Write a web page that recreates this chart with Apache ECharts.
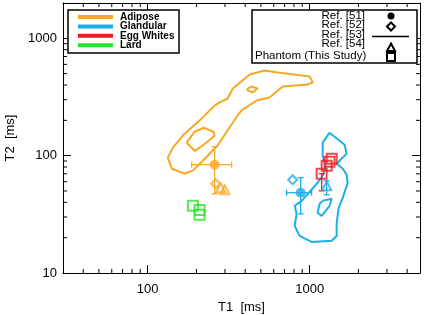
<!DOCTYPE html>
<html>
<head>
<meta charset="utf-8">
<script src="https://cdn.jsdelivr.net/npm/echarts@6/dist/echarts.min.js"></script>
<style>
  html, body { margin: 0; padding: 0; background: #fff; }
  #main { width: 425px; height: 315px; }
</style>
</head>
<body>
<div id="main"></div>
<script>
// axis ranges (ms)
const t1Range = [30, 4800];
const t2Range = [10, 2000];
const t1Labels = [100, 1000];
const t2Labels = [10, 100, 1000];
const t1MinorTicks = [40, 50, 60, 70, 80, 90, 200, 300, 400, 500, 600, 700, 800, 900, 2000, 3000, 4000];
const t2MinorTicks = [20, 30, 40, 50, 60, 70, 80, 90, 200, 300, 400, 500, 600, 700, 800, 900];

// contours [T1, T2] (Ref. [53])
const adiposeContour = [
  [427, 492], [527, 532], [634, 512], [1000, 473], [1044, 421], [973, 404], [681, 389],
  [566, 313], [471, 295], [380, 243], [359, 220], [270, 122], [219, 90.6], [190, 74.5],
  [169, 70.2], [141, 77.4], [133, 96.1], [143, 117], [169, 154], [209, 199], [259, 267],
  [278, 284], [312, 307], [335, 374], [427, 492]
];
const adiposeIslandA = [[408, 366], [438, 389], [477, 374], [445, 345], [408, 366]];
const adiposeIslandB = [
  [174, 129], [195, 160], [222, 173], [255, 160], [259, 148], [219, 122], [195, 110], [174, 129]
];
const glandularContour = [
  [1327, 157], [1644, 124], [1691, 104], [1531, 90.6], [1468, 85.4], [1600, 77.4],
  [1691, 68.9], [1717, 58.8], [1600, 43.7], [1510, 35.9], [1468, 26.7], [1468, 20.7],
  [1368, 18.8], [1028, 18.4], [867, 20.7], [808, 25.2], [831, 31.9], [808, 37.4],
  [893, 41.2], [1119, 58.8], [1203, 67.4], [1255, 82.2], [1203, 100], [1203, 129], [1327, 157]
];
const glandularIsland = [[1203, 41.2], [1368, 42.9], [1327, 37.4], [1186, 30.7], [1119, 32.6], [1153, 38.9], [1203, 41.2]];

// literature points [T1, T2]
const adiposeRef51 = [[259, 83.8]];
const adiposeRef52 = [[263, 57.7]];
const adiposeRef54 = [[282, 53.2], [299, 51.2]];
const glandularRef51 = [[880, 48.3]];
const glandularRef52 = [[785, 62.4]];
const glandularRef54 = [[1274, 55.5]];

// phantom points [T1, T2]
const eggWhitePhantom = [[1186, 70.2], [1274, 82.2], [1327, 88.9], [1368, 94.3]];
const lardPhantom = [[190, 37.4], [209, 34.5], [209, 31.3]];

// error bars [T1, T2, T1 low, T1 high, T2 low, T2 high]
const adiposeErrors = [[259, 83.8, 187, 330, 47.3, 119]];
const glandularErrors = [[880, 48.3, 721, 1028, 31.9, 64.9], [1274, 55.5, '-', '-', 46.4, 61.1]];
const eggWhiteErrors = [[1186, 70.2, '-', '-', 50.2, 70.2]];

const ORANGE = '#F7A823';
const BLUE = '#1FAEE6';
const RED = '#EC1C24';
const GREEN = '#2BE32B';
const FONT = 'Liberation Sans';

function contourSeries(data, color) {
  return {
    type: 'line', data: data, showSymbol: false, silent: true, z: 2,
    lineStyle: { color: color, width: 2 }
  };
}

function pointSeries(data, symbol, color, size, filled) {
  return {
    type: 'scatter', data: data, symbol: symbol, symbolSize: size, z: 4,
    itemStyle: filled
      ? { color: color }
      : { color: 'rgba(0,0,0,0)', borderColor: color, borderWidth: 2 }
  };
}

function renderErrorBar(params, api) {
  const x = api.value(0), y = api.value(1);
  const style = { stroke: api.visual('color'), lineWidth: 1.3 };
  const cap = 3;
  const lines = [];
  const seg = (x1, y1, x2, y2) => lines.push({ type: 'line', shape: { x1, y1, x2, y2 }, style });
  const xlo = api.value(2), xhi = api.value(3), ylo = api.value(4), yhi = api.value(5);
  if (!isNaN(xlo) && !isNaN(xhi)) {
    const a = api.coord([xlo, y]), b = api.coord([xhi, y]);
    seg(a[0], a[1], b[0], b[1]);
    seg(a[0], a[1] - cap, a[0], a[1] + cap);
    seg(b[0], b[1] - cap, b[0], b[1] + cap);
  }
  if (!isNaN(ylo) && !isNaN(yhi)) {
    const a = api.coord([x, ylo]), b = api.coord([x, yhi]);
    seg(a[0], a[1], b[0], b[1]);
    seg(a[0] - cap, a[1], a[0] + cap, a[1]);
    seg(b[0] - cap, b[1], b[0] + cap, b[1]);
  }
  return { type: 'group', children: lines };
}

function errorSeries(data, color) {
  return {
    type: 'custom', data: data, renderItem: renderErrorBar, z: 3,
    itemStyle: { color: color }, encode: { x: 0, y: 1 }
  };
}

// minor ticks on all four sides
function tickSeries(values, isX) {
  return {
    type: 'custom', silent: true, z: 5,
    data: values.map(v => isX ? [v, t2Range[0]] : [t1Range[0], v]),
    encode: { x: 0, y: 1 },
    renderItem: function (params, api) {
      const cs = params.coordSys;
      const p = api.coord([api.value(0), api.value(1)]);
      const style = { stroke: '#000', lineWidth: 1 };
      const len = 4;
      if (isX) {
        return { type: 'group', children: [
          { type: 'line', shape: { x1: p[0], y1: cs.y + cs.height, x2: p[0], y2: cs.y + cs.height - len }, style },
          { type: 'line', shape: { x1: p[0], y1: cs.y, x2: p[0], y2: cs.y + len }, style }
        ] };
      }
      return { type: 'group', children: [
        { type: 'line', shape: { x1: cs.x, y1: p[1], x2: cs.x + len, y2: p[1] }, style },
        { type: 'line', shape: { x1: cs.x + cs.width, y1: p[1], x2: cs.x + cs.width - len, y2: p[1] }, style }
      ] };
    }
  };
}

function logAxis(range, labels, position, showLabel, name) {
  return {
    type: 'log', logBase: 10, min: range[0], max: range[1], position: position,
    name: name || '', nameLocation: 'middle',
    nameTextStyle: { color: '#000', fontFamily: FONT, fontSize: 13 },
    axisLine: { show: true, onZero: false, lineStyle: { color: '#000', width: 1 } },
    axisTick: { show: true, inside: true, length: 8, lineStyle: { color: '#000' } },
    splitLine: { show: false },
    axisLabel: {
      show: showLabel, color: '#000', fontFamily: FONT, fontSize: 13,
      formatter: v => labels.indexOf(Math.round(v)) >= 0 ? String(Math.round(v)) : ''
    }
  };
}

const chart = echarts.init(document.getElementById('main'));

const xMain = logAxis(t1Range, t1Labels, 'bottom', true, 'T1  [ms]');
xMain.nameGap = 25;
xMain.axisLabel.margin = 10;
const yMain = logAxis(t2Range, t2Labels, 'left', true, 'T2  [ms]');
yMain.nameGap = 44;
yMain.axisLabel.margin = 6;

const legendLeft = [
  ['Adipose', ORANGE], ['Glandular', BLUE], ['Egg Whites', RED], ['Lard', GREEN]
];
const legendRight = ['Ref. [51]', 'Ref. [52]', 'Ref. [53]', 'Ref. [54]', 'Phantom (This Study)'];

const graphics = [
  { type: 'rect', shape: { x: 68, y: 10, width: 111, height: 43 }, style: { fill: '#fff', stroke: '#000', lineWidth: 1.5 }, z: 10 },
  { type: 'rect', shape: { x: 252, y: 10, width: 165, height: 53 }, style: { fill: '#fff', stroke: '#000', lineWidth: 1.5 }, z: 10 }
];
legendLeft.forEach(function (item, i) {
  const y = 17 + i * 9.4;
  graphics.push({ type: 'line', shape: { x1: 78, y1: y, x2: 113, y2: y }, style: { stroke: item[1], lineWidth: 4 }, z: 11 });
  graphics.push({ type: 'text', x: 120, y: y, z: 11, style: {
    text: item[0], fill: '#000', font: 'bold 10px ' + FONT, textVerticalAlign: 'middle', verticalAlign: 'middle'
  } });
});
legendRight.forEach(function (label, i) {
  const y = [16, 25, 34.5, 44, 56][i];
  const last = i === legendRight.length - 1;
  graphics.push({ type: 'text', x: last ? 255 : 365, y: y, z: 11, style: {
    text: label, fill: '#000', font: '11.5px ' + FONT, align: last ? 'left' : 'right',
    textAlign: last ? 'left' : 'right', verticalAlign: 'middle', textVerticalAlign: 'middle'
  } });
});
const sx = 391;
graphics.push(
  { type: 'circle', shape: { cx: sx, cy: 16, r: 3.5 }, style: { fill: '#000' }, z: 11 },
  { type: 'polygon', shape: { points: [[sx, 22.5], [sx + 4, 26.5], [sx, 30.5], [sx - 4, 26.5]] }, style: { fill: 'none', stroke: '#000', lineWidth: 2 }, z: 11 },
  { type: 'line', shape: { x1: 372, y1: 36.5, x2: 409, y2: 36.5 }, style: { stroke: '#000', lineWidth: 1.5 }, z: 11 },
  { type: 'polygon', shape: { points: [[sx, 43.5], [sx + 4, 51], [sx - 4, 51]] }, style: { fill: 'none', stroke: '#000', lineWidth: 2 }, z: 11 },
  { type: 'rect', shape: { x: sx - 4, y: 53, width: 8, height: 8 }, style: { fill: 'none', stroke: '#000', lineWidth: 2 }, z: 11 }
);

const option = {
  animation: false,
  backgroundColor: '#fff',
  grid: { left: 63, right: 5, top: 3, bottom: 42, outerBoundsMode: 'none' },
  xAxis: [xMain, logAxis(t1Range, t1Labels, 'top', false)],
  yAxis: [yMain, logAxis(t2Range, t2Labels, 'right', false)],
  graphic: graphics,
  series: [
    contourSeries(adiposeContour, ORANGE),
    contourSeries(adiposeIslandA, ORANGE),
    contourSeries(adiposeIslandB, ORANGE),
    contourSeries(glandularContour, BLUE),
    contourSeries(glandularIsland, BLUE),
    errorSeries(adiposeErrors, ORANGE),
    errorSeries(glandularErrors, BLUE),
    errorSeries(eggWhiteErrors, RED),
    pointSeries(adiposeRef51, 'circle', ORANGE, 10, true),
    pointSeries(adiposeRef52, 'diamond', ORANGE, 9, false),
    pointSeries(adiposeRef54, 'triangle', ORANGE, 9, false),
    pointSeries(glandularRef51, 'circle', BLUE, 10, true),
    pointSeries(glandularRef52, 'diamond', BLUE, 9, false),
    pointSeries(glandularRef54, 'triangle', BLUE, 9, false),
    pointSeries(eggWhitePhantom, 'rect', RED, 10, false),
    pointSeries(lardPhantom, 'rect', GREEN, 10, false),
    tickSeries(t1MinorTicks, true),
    tickSeries(t2MinorTicks, false)
  ]
};
chart.setOption(option);
</script>
</body>
</html>
